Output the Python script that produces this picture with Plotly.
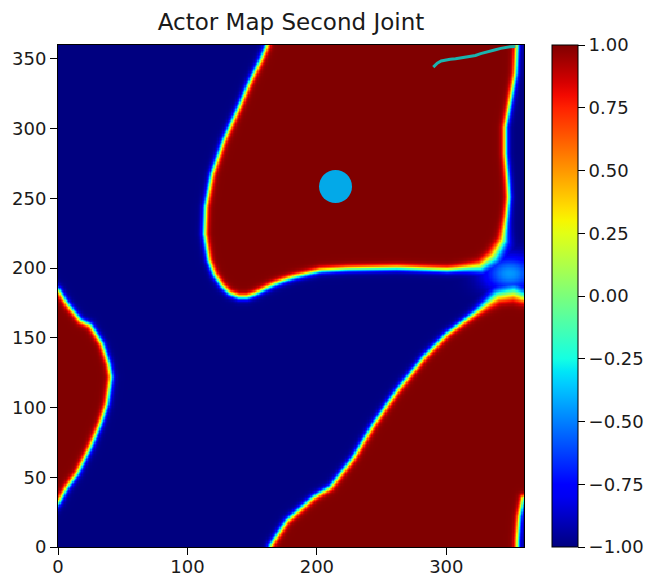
import numpy as np
import plotly.graph_objects as go

# ---------------- data ----------------
title = "Actor Map Second Joint"
x_tickvals = [0, 100, 200, 300]
y_tickvals = [0, 50, 100, 150, 200, 250, 300, 350]
cb_tickvals = [-1.0, -0.75, -0.5, -0.25, 0.0, 0.25, 0.5, 0.75, 1.0]
cb_ticktext = ["\u22121.00", "\u22120.75", "\u22120.50", "\u22120.25", "0.00",
               "0.25", "0.50", "0.75", "1.00"]

# boundary (value = 0) of the upper red region
upper_bx = [163, 162, 156.4, 147.4, 139.7, 128, 119, 114, 113.2, 116.5, 121, 126.5, 132.5,
            139.7, 146, 152, 158.5, 166, 174, 182, 202.8, 223.4, 262, 300.7, 326.4, 336.7,
            344.4, 347, 348.3, 347.5, 345.7, 345.7, 349.6, 353.5, 354.7, 355]
upper_by = [372, 361, 349, 332, 315.4, 291.5, 267.6, 243.7, 224.6, 205.5, 195, 187.5, 182,
            179.3, 179.3, 181.3, 184.5, 188, 191, 193.5, 198.3, 199.5, 200.2, 198.8, 200.7, 207.8,
            219.8, 239, 250.9, 262.8, 282, 301, 320.2, 339.4, 361, 372]

# boundary of the lower-right red region (diagonal edge, then right-bottom notch)
lower_bx = [161, 164.2, 177, 197.6, 210.5, 228.5, 244, 262, 282.6, 300.7, 321.2, 339.3,
            352.1, 360, 372]
lower_by = [-10, 1, 19, 35.7, 42.9, 64.4, 88.3, 112.2, 136.1, 152.9, 167.2, 180.4,
            182.7, 179.5, 176]
notch_bx = [372, 359.5, 356.5, 355, 354.8]
notch_by = [37, 35, 22, 5, -10]

# boundary of the left red region
left_bx = [-10, 0.6, 7.1, 17.4, 25.1, 34.1, 39.3, 41.1, 38, 32.8, 25.1, 14.8, 7.1, 0.6, -10]
left_by = [192, 184, 174.4, 162.4, 158.9, 145.7, 131.4, 121.8, 102.7, 88.3, 71.6, 52.5,
           42.9, 32.1, 20]

# saddle between the red regions (lighter blue haze)
saddle_x, saddle_y, saddle_level = 349, 196, -0.45

# cyan trajectory at the top
traj_x = [289.9, 293, 296, 299.4, 303, 307.1, 311, 314.8, 318.5, 322.5, 326.5, 330.3,
          334, 338, 342, 345.7, 349.5, 353.4]
traj_y = [344.1, 347, 348.5, 349.4, 349.8, 350.1, 350.6, 351.3, 352.1, 352.5, 353.8, 354.9,
          355.8, 356.6, 357.6, 358.4, 358.8, 358.9]

# current point
point_x = [214.4]
point_y = [258.5]

# ---------------- build the image ----------------
N = 360
xs = np.arange(N) + 0.5
ys = np.arange(N) + 0.5
X, Y = np.meshgrid(xs, ys)


def poly_dist(px, py, bx, by):
    d = np.full(px.shape, np.inf)
    for i in range(len(bx) - 1):
        ax, ay, cx, cy = bx[i], by[i], bx[i + 1], by[i + 1]
        vx, vy = cx - ax, cy - ay
        L = vx * vx + vy * vy
        t = np.clip(((px - ax) * vx + (py - ay) * vy) / L, 0, 1)
        qx, qy = ax + t * vx - px, ay + t * vy - py
        d = np.minimum(d, np.sqrt(qx * qx + qy * qy))
    return d


def inside(px, py, vx, vy):
    res = np.zeros(px.shape, dtype=bool)
    n = len(vx)
    j = n - 1
    for i in range(n):
        xi, yi, xj, yj = vx[i], vy[i], vx[j], vy[j]
        cond = ((yi > py) != (yj > py))
        xint = (xj - xi) * (py - yi) / ((yj - yi) if yj != yi else 1e-12) + xi
        res ^= cond & (px < xint)
        j = i
    return res


# transition width: sharp everywhere, broader near the saddle
r2 = (X - saddle_x) ** 2 + (Y - saddle_y) ** 2
w = 2.6 + 6.0 * np.exp(-r2 / (2 * 17.0 ** 2))
Z = np.full(X.shape, -1.0)

regions = [
    ([(upper_bx, upper_by)], upper_bx, upper_by),
    ([(lower_bx, lower_by), (notch_bx, notch_by)], lower_bx + notch_bx, lower_by + notch_by),
    ([(left_bx, left_by)], left_bx, left_by),
]
for lines, pvx, pvy in regions:
    d = np.full(X.shape, np.inf)
    for bx, by in lines:
        d = np.minimum(d, poly_dist(X, Y, bx, by))
    ins = inside(X, Y, pvx, pvy)
    s = np.where(ins, d, -d)
    Z = np.maximum(Z, np.tanh(s / w))

blob = -1 + (saddle_level + 1) * np.exp(-(((X - saddle_x) / 14.0) ** 2 + ((Y - saddle_y) / 9.0) ** 2) / 2)
Z = np.maximum(Z, blob)
Z = np.round(Z, 3)

# matplotlib "jet" colormap
r_pts = ([0, 0.35, 0.66, 0.89, 1], [0, 0, 1, 1, 0.5])
g_pts = ([0, 0.125, 0.375, 0.64, 0.91, 1], [0, 0, 1, 1, 0, 0])
b_pts = ([0, 0.11, 0.34, 0.65, 1], [0.5, 1, 1, 0, 0])
stops = np.linspace(0, 1, 41)
jet = []
for s_ in stops:
    r = np.interp(s_, *r_pts)
    g = np.interp(s_, *g_pts)
    b = np.interp(s_, *b_pts)
    jet.append([float(s_), "rgb(%d,%d,%d)" % (round(r * 255), round(g * 255), round(b * 255))])

font = "DejaVu Sans"
tick_font = dict(family=font, size=18, color="#1a1a1a")

fig = go.Figure()
fig.add_trace(go.Heatmap(
    z=Z, x=xs, y=ys, zmin=-1, zmax=1, colorscale=jet,
    colorbar=dict(
        thickness=26, thicknessmode="pixels", len=1, lenmode="fraction",
        x=1.06, xanchor="left", xpad=0, y=0.5, yanchor="middle", ypad=0,
        outlinewidth=1, outlinecolor="black",
        tickmode="array", tickvals=cb_tickvals, ticktext=cb_ticktext,
        ticks="outside", ticklen=7, tickwidth=1, tickcolor="black",
        tickfont=tick_font,
    ),
    hoverinfo="skip",
))
fig.add_trace(go.Scatter(
    x=traj_x, y=traj_y, mode="lines",
    line=dict(color="#1ab3ae", width=3), showlegend=False, hoverinfo="skip",
))
fig.add_trace(go.Scatter(
    x=point_x, y=point_y, mode="markers",
    marker=dict(size=33, color="#03a9e8", line=dict(width=0)),
    showlegend=False, hoverinfo="skip",
))

axis_common = dict(
    showgrid=False, zeroline=False, showline=True, linecolor="black", linewidth=1,
    mirror=True, ticks="outside", ticklen=7, tickwidth=1, tickcolor="black",
    tickfont=tick_font, automargin=False,
)
fig.update_layout(
    width=659, height=578,
    margin=dict(l=58, r=135, t=45, b=31, autoexpand=False),
    paper_bgcolor="white", plot_bgcolor="white",
    title=dict(text=title, x=(58 + 233) / 659, xanchor="center", y=1 - 22 / 578,
               yanchor="middle", font=dict(family=font, size=23, color="#1a1a1a")),
    xaxis=dict(range=[0, 360], tickvals=x_tickvals, ticklabelstandoff=-4, **axis_common),
    yaxis=dict(range=[0, 360], tickvals=y_tickvals, **axis_common),
    showlegend=False,
)

fig.write_html("out.html", config={"displayModeBar": False},
               post_script="document.body.style.margin='0';")
